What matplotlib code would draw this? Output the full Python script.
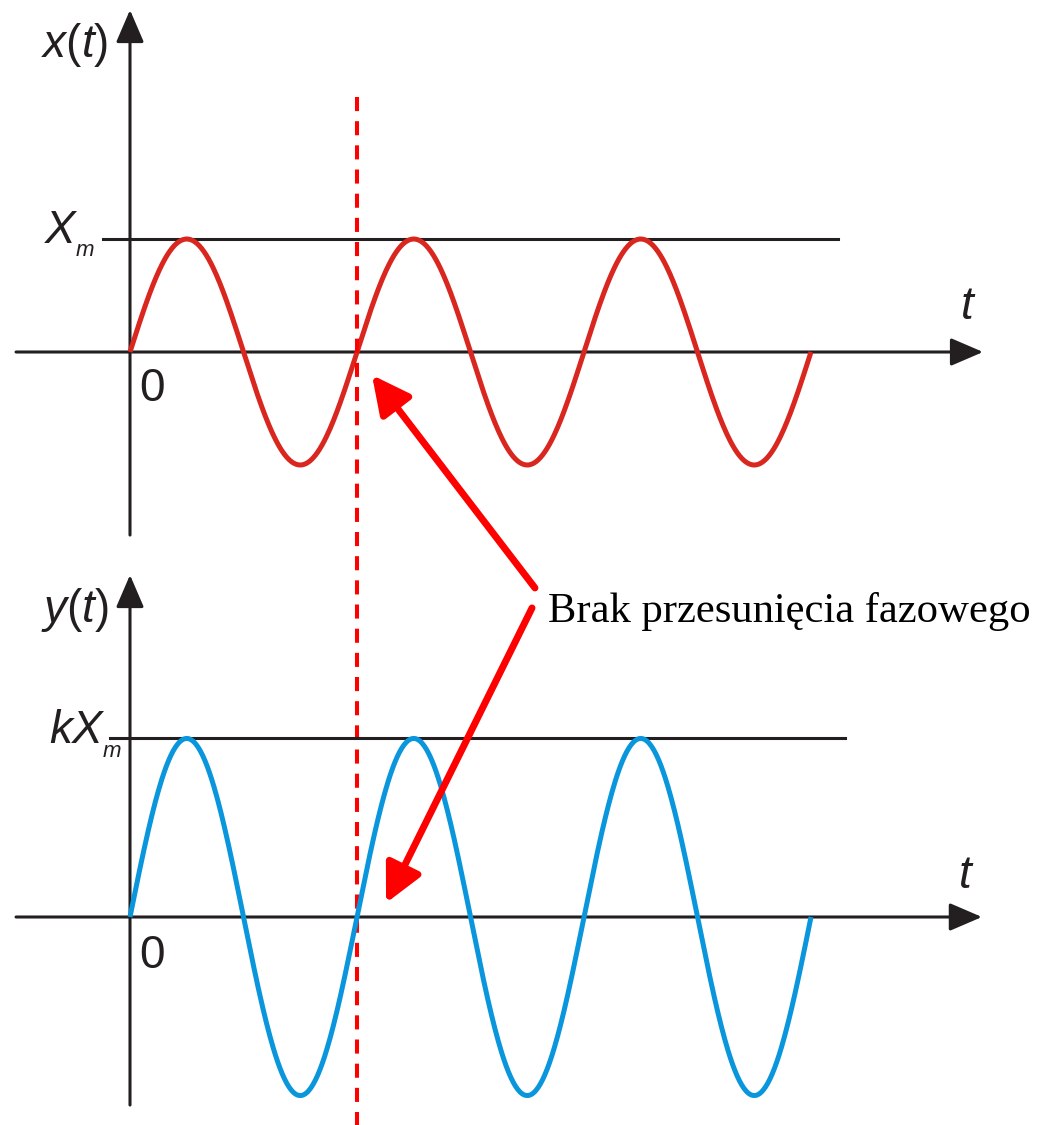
import numpy as np
import matplotlib
matplotlib.use("Agg")
import matplotlib.pyplot as plt
from matplotlib.patches import FancyArrowPatch, ArrowStyle

plt.rcParams['mathtext.fontset'] = 'custom'
plt.rcParams['mathtext.it'] = 'Liberation Sans:italic'
plt.rcParams['mathtext.rm'] = 'Liberation Sans'

# ---- data ----
periods = 3          # number of periods shown
Xm = 1.0             # input amplitude
k = 1.58             # gain
n_samples = 600
t_values = np.linspace(0, periods, n_samples)
x_values = Xm * np.sin(2 * np.pi * t_values)
y_values = k * Xm * np.sin(2 * np.pi * t_values)
panel_labels = ["$x(t)$", "$y(t)$"]
level_labels = ["X", "kX"]
level_subscript = "m"
annotation_text = "Brak przesunięcia fazowego"

# ---- style ----
AX_COL = '#231f20'
RED_CURVE = '#d9261f'
BLUE_CURVE = '#0a96dc'
ARROW_RED = '#ff0000'

W, H = 1041, 1125
fig = plt.figure(figsize=(W / 100, H / 100), dpi=100)

xlim = (-130 / 227, (W - 130) / 227)
ax_top = fig.add_axes([0, 565 / H, 1, 560 / H])
ax_top.set_xlim(*xlim)
ax_top.set_ylim((352 - 560) / 113, 352 / 113)
ax_bot = fig.add_axes([0, 0, 1, 565 / H])
ax_bot.set_xlim(*xlim)
ax_bot.set_ylim((917 - 1125) / 113, (917 - 560) / 113)
for a in (ax_top, ax_bot):
    a.axis('off')


def axis_arrow(ax, p0, p1):
    ar = FancyArrowPatch(p0, p1, arrowstyle=ArrowStyle('-|>', head_length=20, head_width=8.6),
                         mutation_scale=1, color=AX_COL, lw=2.2, shrinkA=0, shrinkB=0,
                         clip_on=False, zorder=3)
    ax.add_patch(ar)


label_font = dict(family='Liberation Sans', fontsize=33, color=AX_COL)
it_font = dict(family='Liberation Sans', style='italic', fontsize=33, color=AX_COL)
sub_font = dict(family='Liberation Sans', style='italic', fontsize=16, color=AX_COL)

# top panel
axis_arrow(ax_top, (-0.502, 0), (3.758, 0))
axis_arrow(ax_top, (0, -1.62), (0, 3.027))
ax_top.plot([-0.119, 3.119], [Xm, Xm], color=AX_COL, lw=2.2, zorder=2)
ax_top.plot(t_values, x_values, color=RED_CURVE, lw=3.6, zorder=4, solid_capstyle='butt')
ax_top.text(-0.242, 2.717, panel_labels[0], ha='center', va='center', **label_font)
ax_top.text(-0.242, 1.075, level_labels[0], ha='right', va='center', **it_font)
ax_top.text(-0.240, 0.894, level_subscript, ha='left', va='center', **sub_font)
ax_top.text(3.69, 0.40, "t", ha='center', va='center', **it_font)
ax_top.text(0.097, -0.327, "0", ha='center', va='center', **label_font)

# bottom panel
axis_arrow(ax_bot, (-0.502, 0), (3.753, 0))
axis_arrow(ax_bot, (0, -1.664), (0, 3.027))
ax_bot.plot([-0.088, 3.150], [k * Xm, k * Xm], color=AX_COL, lw=2.2, zorder=2)
ax_bot.plot(t_values, y_values, color=BLUE_CURVE, lw=3.6, zorder=4, solid_capstyle='butt')
ax_bot.text(-0.242, 2.717, panel_labels[1], ha='center', va='center', **label_font)
ax_bot.text(-0.119, 1.645, level_labels[1], ha='right', va='center', **it_font)
ax_bot.text(-0.120, 1.465, level_subscript, ha='left', va='center', **sub_font)
ax_bot.text(3.68, 0.36, "t", ha='center', va='center', **it_font)
ax_bot.text(0.097, -0.345, "0", ha='center', va='center', **label_font)

# dashed vertical line at one period
ax_top.plot([1.0, 1.0], [(352 - 97) / 113, (352 - 1125) / 113], color=ARROW_RED, lw=2.9,
            dashes=(3.5, 2.5), clip_on=False, zorder=5)

# red arrows
red_style = ArrowStyle('-|>', head_length=23, head_width=11.5)
a1 = FancyArrowPatch((1.784, -2.088), (1.066, -0.204), arrowstyle=red_style, mutation_scale=1,
                     color=ARROW_RED, lw=5, shrinkA=0, shrinkB=0, clip_on=False, zorder=6)
ax_top.add_patch(a1)
a2 = FancyArrowPatch((1.771, 2.735), (1.128, 0.124), arrowstyle=red_style, mutation_scale=1,
                     color=ARROW_RED, lw=5, shrinkA=0, shrinkB=0, clip_on=False, zorder=6)
ax_bot.add_patch(a2)

ax_bot.text(1.841, 2.611, annotation_text, ha='left', va='baseline',
            family='Liberation Serif', fontsize=30.7, color='black')

fig.savefig('out.png', dpi=100)
